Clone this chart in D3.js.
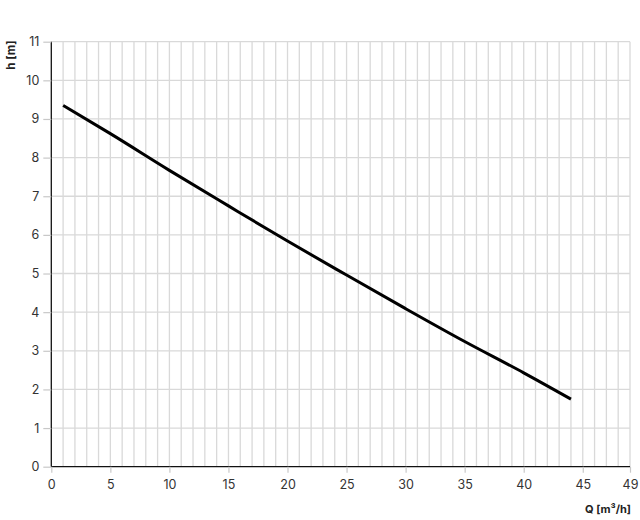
<!DOCTYPE html>
<html>
<head>
<meta charset="utf-8">
<script src="https://cdn.jsdelivr.net/npm/d3@7"></script>
<style>
    body { margin: 0; background: #fff; }
    text { font-family: Inter, Roboto, sans-serif; }
</style>
</head>
<body>
<div id="chart"></div>
<script>
// pump curve
const flowQ = [1, 5, 10, 15, 20, 25, 30, 35, 40, 44]
const headH = [9.35, 8.62, 7.67, 6.75, 5.84, 4.96, 4.09, 3.24, 2.43, 1.75]
const xTicks = [0, 5, 10, 15, 20, 25, 30, 35, 40, 45, 49]
const yTicks = [0, 1, 2, 3, 4, 5, 6, 7, 8, 9, 10, 11]
const xLabel = "Q [m³/h]"
const yLabel = "h [m]"

const W = 640, H = 520
const margin = { top: 41.7, right: 10, bottom: 53.3, left: 51.3 }
const width = W - margin.left - margin.right
const height = H - margin.top - margin.bottom

const svg = d3.select("#chart")
    .append("svg")
    .attr("width", W)
    .attr("height", H)

const g = svg.append("g")
    .attr("transform", "translate(" + margin.left + "," + margin.top + ")")

const x = d3.scaleLinear().domain([0, 49]).range([0, width])
const y = d3.scaleLinear().domain([0, 11]).range([height, 0])

// grid, one line per unit
g.append("g")
    .selectAll("line")
    .data(d3.range(1, 50))
    .enter().append("line")
    .attr("x1", d => x(d)).attr("x2", d => x(d))
    .attr("y1", 0).attr("y2", height)
    .attr("stroke", "#d9d9d9")
    .attr("stroke-width", 1.3)

g.append("g")
    .selectAll("line")
    .data(yTicks.slice(1))
    .enter().append("line")
    .attr("x1", 0).attr("x2", width)
    .attr("y1", d => y(d)).attr("y2", d => y(d))
    .attr("stroke", "#d9d9d9")
    .attr("stroke-width", 1.3)

// axes
const xAxis = g.append("g")
    .attr("transform", "translate(0," + height + ")")
    .call(d3.axisBottom(x).tickValues(xTicks).tickSize(6).tickPadding(7))
const yAxis = g.append("g")
    .call(d3.axisLeft(y).tickValues(yTicks).tickSize(8).tickPadding(4))

for (const ax of [xAxis, yAxis]) {
    ax.select(".domain").attr("stroke", "#111").attr("stroke-width", 1.3)
    ax.selectAll(".tick line").attr("stroke", "#c8c8c8").attr("stroke-width", 1.2)
    ax.selectAll(".tick text")
        .attr("fill", "#333")
        .attr("font-size", 12.5)
        .attr("font-family", "Inter, Roboto, sans-serif")
}
yAxis.select(".domain").attr("d", "M0," + height + "V0")
xAxis.select(".domain").attr("d", "M0,0H" + width)

// axis titles
svg.append("text")
    .attr("transform", "translate(15,55) rotate(-90)")
    .attr("text-anchor", "middle")
    .attr("font-size", 11.5)
    .attr("font-weight", "bold")
    .attr("fill", "#222")
    .text(yLabel)

svg.append("text")
    .attr("x", 631)
    .attr("y", 513)
    .attr("text-anchor", "end")
    .attr("font-size", 11)
    .attr("font-weight", "bold")
    .attr("fill", "#222")
    .text(xLabel)

// curve
const points = flowQ.map((q, i) => [q, headH[i]])
g.append("path")
    .datum(points)
    .attr("fill", "none")
    .attr("stroke", "#000")
    .attr("stroke-width", 3)
    .attr("d", d3.line().x(d => x(d[0])).y(d => y(d[1])).curve(d3.curveMonotoneX))
</script>
</body>
</html>
